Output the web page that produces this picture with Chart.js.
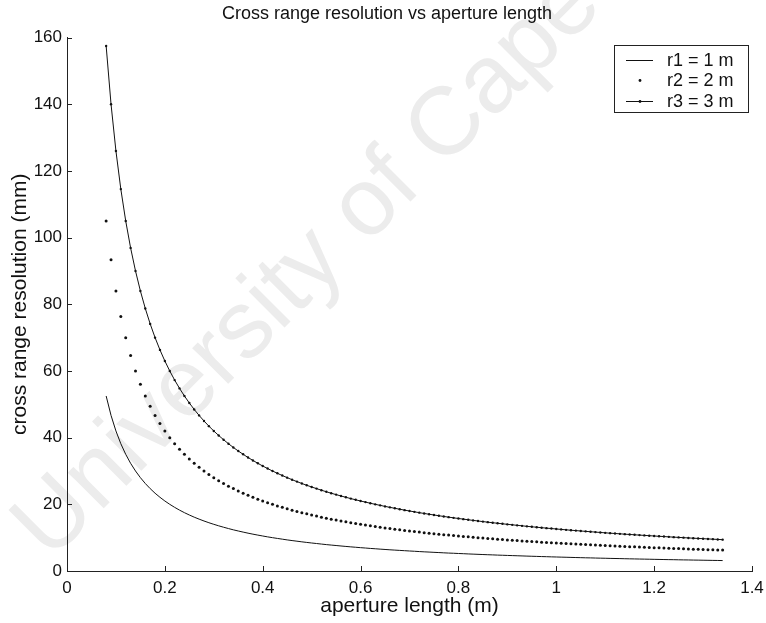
<!DOCTYPE html>
<html>
<head>
<meta charset="utf-8">
<script src="https://cdn.jsdelivr.net/npm/chart.js@4.4.0/dist/chart.umd.min.js"></script>
<style>
  html, body { margin: 0; padding: 0; background: #fff; }
  #wrap { width: 766px; height: 623px; }
</style>
</head>
<body>
<div id="wrap"><canvas id="chart" width="766" height="623"></canvas></div>
<script>
// aperture length (m)
const aperture = [
  0.08, 0.09, 0.10, 0.11, 0.12, 0.13, 0.14, 0.15, 0.16, 0.17, 0.18, 0.19,
  0.20, 0.21, 0.22, 0.23, 0.24, 0.25, 0.26, 0.27, 0.28, 0.29, 0.30, 0.31,
  0.32, 0.33, 0.34, 0.35, 0.36, 0.37, 0.38, 0.39, 0.40, 0.41, 0.42, 0.43,
  0.44, 0.45, 0.46, 0.47, 0.48, 0.49, 0.50, 0.51, 0.52, 0.53, 0.54, 0.55,
  0.56, 0.57, 0.58, 0.59, 0.60, 0.61, 0.62, 0.63, 0.64, 0.65, 0.66, 0.67,
  0.68, 0.69, 0.70, 0.71, 0.72, 0.73, 0.74, 0.75, 0.76, 0.77, 0.78, 0.79,
  0.80, 0.81, 0.82, 0.83, 0.84, 0.85, 0.86, 0.87, 0.88, 0.89, 0.90, 0.91,
  0.92, 0.93, 0.94, 0.95, 0.96, 0.97, 0.98, 0.99, 1.00, 1.01, 1.02, 1.03,
  1.04, 1.05, 1.06, 1.07, 1.08, 1.09, 1.10, 1.11, 1.12, 1.13, 1.14, 1.15,
  1.16, 1.17, 1.18, 1.19, 1.20, 1.21, 1.22, 1.23, 1.24, 1.25, 1.26, 1.27,
  1.28, 1.29, 1.30, 1.31, 1.32, 1.33, 1.34
];

// cross range resolution (mm), r1 = 1 m
const res1 = [
  52.5, 46.67, 42.0, 38.18, 35.0, 32.31, 30.0, 28.0, 26.25, 24.71, 23.33, 22.11,
  21.0, 20.0, 19.09, 18.26, 17.5, 16.8, 16.15, 15.56, 15.0, 14.48, 14.0, 13.55,
  13.13, 12.73, 12.35, 12.0, 11.67, 11.35, 11.05, 10.77, 10.5, 10.24, 10.0, 9.77,
  9.55, 9.33, 9.13, 8.94, 8.75, 8.57, 8.4, 8.24, 8.08, 7.92, 7.78, 7.64,
  7.5, 7.37, 7.24, 7.12, 7.0, 6.89, 6.77, 6.67, 6.56, 6.46, 6.36, 6.27,
  6.18, 6.09, 6.0, 5.92, 5.83, 5.75, 5.68, 5.6, 5.53, 5.45, 5.38, 5.32,
  5.25, 5.19, 5.12, 5.06, 5.0, 4.94, 4.88, 4.83, 4.77, 4.72, 4.67, 4.62,
  4.57, 4.52, 4.47, 4.42, 4.38, 4.33, 4.29, 4.24, 4.2, 4.16, 4.12, 4.08,
  4.04, 4.0, 3.96, 3.93, 3.89, 3.85, 3.82, 3.78, 3.75, 3.72, 3.68, 3.65,
  3.62, 3.59, 3.56, 3.53, 3.5, 3.47, 3.44, 3.41, 3.39, 3.36, 3.33, 3.31,
  3.28, 3.26, 3.23, 3.21, 3.18, 3.16, 3.13
];

// r2 = 2 m
const res2 = [
  105, 93.33, 84, 76.36, 70, 64.62, 60, 56, 52.5, 49.41, 46.67, 44.21,
  42, 40, 38.18, 36.52, 35, 33.6, 32.31, 31.11, 30, 28.97, 28, 27.1,
  26.25, 25.45, 24.71, 24, 23.33, 22.7, 22.11, 21.54, 21, 20.49, 20, 19.53,
  19.09, 18.67, 18.26, 17.87, 17.5, 17.14, 16.8, 16.47, 16.15, 15.85, 15.56, 15.27,
  15, 14.74, 14.48, 14.24, 14, 13.77, 13.55, 13.33, 13.13, 12.92, 12.73, 12.54,
  12.35, 12.17, 12, 11.83, 11.67, 11.51, 11.35, 11.2, 11.05, 10.91, 10.77, 10.63,
  10.5, 10.37, 10.24, 10.12, 10, 9.88, 9.77, 9.66, 9.55, 9.44, 9.33, 9.23,
  9.13, 9.03, 8.94, 8.84, 8.75, 8.66, 8.57, 8.48, 8.4, 8.32, 8.24, 8.16,
  8.08, 8, 7.92, 7.85, 7.78, 7.71, 7.64, 7.57, 7.5, 7.43, 7.37, 7.3,
  7.24, 7.18, 7.12, 7.06, 7, 6.94, 6.89, 6.83, 6.77, 6.72, 6.67, 6.61,
  6.56, 6.51, 6.46, 6.41, 6.36, 6.32, 6.27
];

// r3 = 3 m
const res3 = [
  157.5, 140, 126, 114.55, 105, 96.92, 90, 84, 78.75, 74.12, 70, 66.32,
  63, 60, 57.27, 54.78, 52.5, 50.4, 48.46, 46.67, 45, 43.45, 42, 40.65,
  39.38, 38.18, 37.06, 36, 35, 34.05, 33.16, 32.31, 31.5, 30.73, 30, 29.3,
  28.64, 28, 27.39, 26.81, 26.25, 25.71, 25.2, 24.71, 24.23, 23.77, 23.33, 22.91,
  22.5, 22.11, 21.72, 21.36, 21, 20.66, 20.32, 20, 19.69, 19.38, 19.09, 18.81,
  18.53, 18.26, 18, 17.75, 17.5, 17.26, 17.03, 16.8, 16.58, 16.36, 16.15, 15.95,
  15.75, 15.56, 15.37, 15.18, 15, 14.82, 14.65, 14.48, 14.32, 14.16, 14, 13.85,
  13.7, 13.55, 13.4, 13.26, 13.13, 12.99, 12.86, 12.73, 12.6, 12.48, 12.35, 12.23,
  12.12, 12, 11.89, 11.78, 11.67, 11.56, 11.45, 11.35, 11.25, 11.15, 11.05, 10.96,
  10.86, 10.77, 10.68, 10.59, 10.5, 10.41, 10.33, 10.24, 10.16, 10.08, 10, 9.92,
  9.84, 9.77, 9.69, 9.62, 9.55, 9.47, 9.4
];

const seriesNames = ["r1 = 1 m", "r2 = 2 m", "r3 = 3 m"];
const xTicks = [0, 0.2, 0.4, 0.6, 0.8, 1, 1.2, 1.4];
const yTicks = [0, 20, 40, 60, 80, 100, 120, 140, 160];

const FONT = "'Liberation Sans', Arial, sans-serif";

function pts(ys) {
  return aperture.map((x, i) => ({ x: x, y: ys[i] }));
}

// faint thesis watermark behind the plot
const watermark = {
  id: "watermark",
  beforeDraw(chart) {
    const ctx = chart.ctx;
    ctx.save();
    ctx.translate(50, 562);
    ctx.rotate(-Math.PI / 4);
    ctx.font = "96px " + FONT;
    ctx.fillStyle = "#ececec";
    ctx.textAlign = "left";
    ctx.textBaseline = "alphabetic";
    ctx.fillText("University of Cape", 0, 0);
    ctx.restore();
  }
};

// matlab style inward ticks
const inwardTicks = {
  id: "inwardTicks",
  afterDraw(chart) {
    const ctx = chart.ctx;
    const xs = chart.scales.x, ys = chart.scales.y;
    const a = chart.chartArea;
    ctx.save();
    ctx.strokeStyle = "#222";
    ctx.lineWidth = 1;
    ctx.beginPath();
    xTicks.forEach(v => {
      const px = Math.round(xs.getPixelForValue(v)) + 0.5;
      ctx.moveTo(px, a.bottom);
      ctx.lineTo(px, a.bottom - 5);
    });
    yTicks.forEach(v => {
      const py = Math.round(ys.getPixelForValue(v)) + 0.5;
      ctx.moveTo(a.left, py);
      ctx.lineTo(a.left + 5, py);
    });
    ctx.stroke();
    ctx.restore();
  }
};

// boxed legend in the top right corner
const boxLegend = {
  id: "boxLegend",
  afterDraw(chart) {
    const ctx = chart.ctx;
    const bx = 614, by = 45, bw = 134, bh = 67;
    ctx.save();
    ctx.fillStyle = "#fff";
    ctx.fillRect(bx, by, bw, bh);
    ctx.strokeStyle = "#222";
    ctx.lineWidth = 1;
    ctx.strokeRect(bx + 0.5, by + 0.5, bw, bh);
    ctx.font = "18px " + FONT;
    ctx.fillStyle = "#111";
    ctx.textBaseline = "middle";
    const rows = [60, 80, 101];
    rows.forEach((ry, i) => {
      ctx.strokeStyle = "#111";
      if (i !== 1) {
        ctx.beginPath();
        ctx.moveTo(626, ry + 0.5);
        ctx.lineTo(653, ry + 0.5);
        ctx.stroke();
      }
      if (i !== 0) {
        ctx.beginPath();
        ctx.arc(640, ry + 0.5, 1.4, 0, Math.PI * 2);
        ctx.fill();
      }
      ctx.fillText(seriesNames[i], 667, ry + 1);
    });
    ctx.restore();
  }
};

new Chart(document.getElementById("chart"), {
  type: "scatter",
  data: {
    datasets: [
      {
        label: seriesNames[0],
        data: pts(res1),
        showLine: true,
        borderColor: "#111",
        borderWidth: 1,
        pointRadius: 0
      },
      {
        label: seriesNames[1],
        data: pts(res2),
        showLine: false,
        backgroundColor: "#111",
        borderWidth: 0,
        pointRadius: 1.5
      },
      {
        label: seriesNames[2],
        data: pts(res3),
        showLine: true,
        borderColor: "#111",
        borderWidth: 1,
        backgroundColor: "#111",
        pointBorderWidth: 0,
        pointRadius: 1.2
      }
    ]
  },
  options: {
    responsive: false,
    animation: false,
    layout: { padding: { left: 8, right: 0, top: 0, bottom: 4 } },
    plugins: {
      legend: { display: false },
      tooltip: { enabled: false },
      title: {
        display: true,
        text: "Cross range resolution vs aperture length",
        color: "#111",
        font: { family: FONT, size: 18, weight: "normal" },
        padding: { top: 3, bottom: 13 }
      }
    },
    scales: {
      x: {
        type: "linear",
        min: 0,
        max: 1.4,
        afterBuildTicks(scale) { scale.ticks = xTicks.map(v => ({ value: v })); },
        afterFit(scale) {
          scale.height = 48;
          scale.paddingRight = 14;
        },
        grid: { display: false, drawTicks: false },
        border: { display: true, color: "#222", width: 1 },
        ticks: {
          color: "#111",
          padding: 7,
          maxRotation: 0,
          font: { family: FONT, size: 17 },
          callback: v => String(v)
        },
        title: {
          display: true,
          text: "aperture length (m)",
          color: "#111",
          font: { family: FONT, size: 21 },
          padding: { top: 0, bottom: 0 }
        }
      },
      y: {
        min: 0,
        max: 160,
        afterBuildTicks(scale) { scale.ticks = yTicks.map(v => ({ value: v })); },
        afterFit(scale) { scale.width = 59; },
        grid: { display: false, drawTicks: false },
        border: { display: true, color: "#222", width: 1 },
        ticks: {
          color: "#111",
          padding: 5,
          font: { family: FONT, size: 17 },
          callback: v => String(v)
        },
        title: {
          display: true,
          text: "cross range resolution (mm)",
          color: "#111",
          font: { family: FONT, size: 21 },
          padding: { top: 0, bottom: 0 }
        }
      }
    }
  },
  plugins: [watermark, inwardTicks, boxLegend]
});
</script>
</body>
</html>
